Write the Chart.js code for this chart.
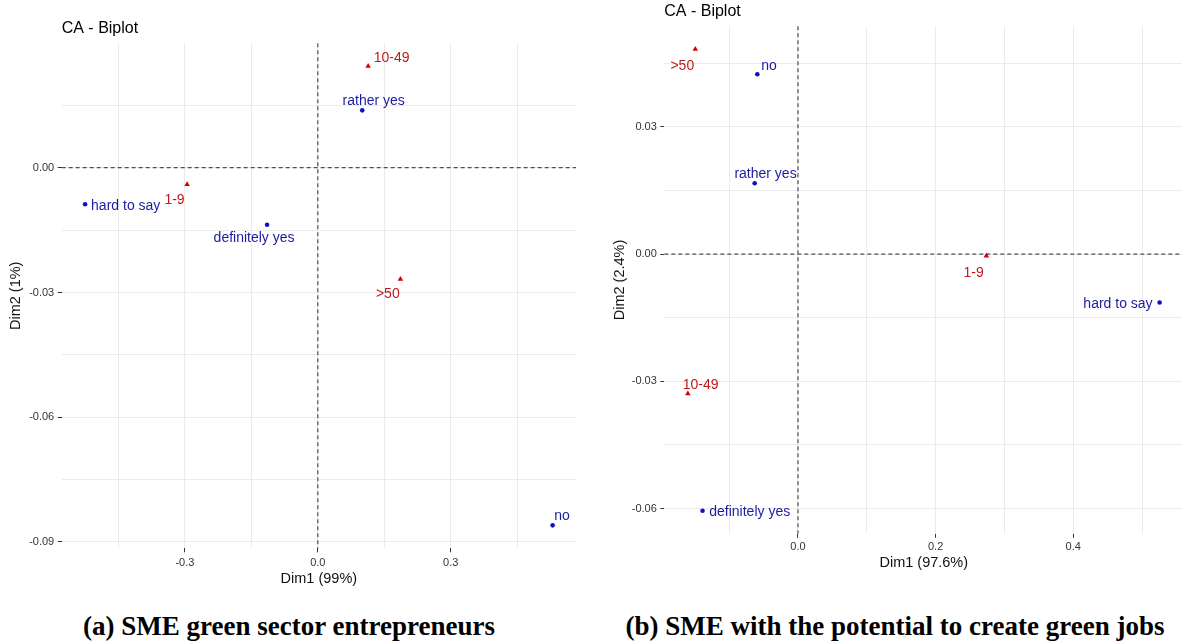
<!DOCTYPE html>
<html>
<head>
<meta charset="utf-8">
<script src="https://cdn.jsdelivr.net/npm/chart.js@4"></script>
<style>
  body { margin: 0; background: #fff; overflow: hidden; width: 1182px; height: 641px; position: relative; }
  .box { position: absolute; top: 0; width: 600px; height: 600px; }
  .caption {
    position: absolute; top: 610px; height: 32px; line-height: 32px;
    text-align: center; font-family: "Liberation Serif", "Times New Roman", serif;
    font-weight: bold; font-size: 27px; color: #000; white-space: nowrap;
  }
</style>
</head>
<body>
<div class="box" style="left:0"><canvas id="chartA"></canvas></div>
<div class="box" style="left:600px"><canvas id="chartB"></canvas></div>
<div class="caption" style="left:0; width:578px">(a) SME green sector entrepreneurs</div>
<div class="caption" style="left:600px; width:590px">(b) SME with the potential to create green jobs</div>
<script>
// row / column categories of the CA
const rowLabels = ["definitely yes", "rather yes", "hard to say", "no"];
const colLabels = ["1-9", "10-49", ">50"];

// (a) SME green sector entrepreneurs
const rowDim1A = [-0.1145, 0.1003, -0.5253, 0.530];
const rowDim2A = [-0.0137, 0.0138, -0.0088, -0.0860];
const colDim1A = [-0.295, 0.1136, 0.1864];
const colDim2A = [-0.0040, 0.0244, -0.0268];

// (b) SME with the potential to create green jobs
const rowDim1B = [-0.1387, -0.0629, 0.5255, -0.0591];
const rowDim2B = [-0.0605, 0.0167, -0.0114, 0.0424];
const colDim1B = [0.2738, -0.160, -0.1492];
const colDim2B = [-0.0004, -0.0329, 0.0483];

const axisTitlesA = ["Dim1 (99%)", "Dim2 (1%)"];
const axisTitlesB = ["Dim1 (97.6%)", "Dim2 (2.4%)"];

// label nudges (px from the point, baseline), like ggrepel put them
const rowNudgeA = [["center", -13, 17.6], ["center", 11.5, -5.5], ["left", 6, 5.5], ["center", 9.5, -5]];
const colNudgeA = [["center", -12.6, 19.5], ["left", 5.6, -4], ["center", -12.6, 19]];
const rowNudgeB = [["left", 6.7, 5.3], ["center", 10.8, -5], ["right", -7, 5.5], ["center", 11.7, -4.3]];
const colNudgeB = [["center", -12.8, 21], ["center", 12.7, -5], ["center", -13, 20.7]];

const FONT = "'Liberation Sans', Arial, sans-serif";
const ROW_COL = "#1010c8", ROW_TXT = "#1c1ca0";
const COL_COL = "#d40000", COL_TXT = "#c01a1a";

function expand(arrs) {
    const all = [].concat(...arrs);
    const lo = Math.min(...all), hi = Math.max(...all);
    const pad = (hi - lo) * 0.05;
    return [lo - pad, hi + pad];
}

function isMajor(v, step) {
    const r = v / step;
    return Math.abs(r - Math.round(r)) < 1e-6;
}

const biplotPlugin = {
    id: "biplot",
    beforeDatasetsDraw(chart) {
        const { ctx, chartArea: a, scales } = chart;
        const x0 = scales.x.getPixelForValue(0);
        const y0 = scales.y.getPixelForValue(0);
        ctx.save();
        ctx.strokeStyle = "#505050";
        ctx.lineWidth = 1.2;
        ctx.setLineDash([4, 3]);
        ctx.beginPath();
        ctx.moveTo(a.left, y0); ctx.lineTo(a.right, y0);
        ctx.moveTo(x0, a.top); ctx.lineTo(x0, a.bottom);
        ctx.stroke();
        ctx.restore();
    },
    afterDatasetsDraw(chart) {
        const { ctx, chartArea: a } = chart;
        const o = chart.options.plugins.biplot;
        ctx.save();
        ctx.font = "14px " + FONT;
        ctx.textBaseline = "alphabetic";
        [[o.rowNames, o.rowNudge, ROW_TXT], [o.colNames, o.colNudge, COL_TXT]].forEach(([names, nudge, color], d) => {
            const meta = chart.getDatasetMeta(d);
            ctx.fillStyle = color;
            meta.data.forEach((el, i) => {
                const [align, dx, dy] = nudge[i];
                ctx.textAlign = align;
                ctx.fillText(names[i], el.x + dx, el.y + dy);
            });
        });
        ctx.fillStyle = "#000";
        ctx.textAlign = "left";
        ctx.font = "16px " + FONT;
        ctx.fillText("CA - Biplot", a.left, a.top - 10);
        ctx.restore();
    }
};

function makeBiplot(id, rowX, rowY, colX, colY, titles, nudges, geo) {
    const xr = expand([rowX, colX]);
    const yr = expand([rowY, colY]);
    const ctx = document.getElementById(id).getContext("2d");
    return new Chart(ctx, {
        type: "scatter",
        data: {
            datasets: [
                {
                    label: "rows",
                    data: rowX.map((x, i) => ({ x: x, y: rowY[i] })),
                    pointStyle: "circle",
                    pointRadius: 2.3,
                    backgroundColor: ROW_COL,
                    borderColor: ROW_COL,
                    borderWidth: 0
                },
                {
                    label: "columns",
                    data: colX.map((x, i) => ({ x: x, y: colY[i] })),
                    pointStyle: "triangle",
                    pointRadius: 3.2,
                    backgroundColor: COL_COL,
                    borderColor: COL_COL,
                    borderWidth: 0
                }
            ]
        },
        options: {
            responsive: true,
            maintainAspectRatio: false,
            animation: false,
            events: [],
            layout: { padding: { top: geo.top, right: geo.right, left: 0, bottom: 0 } },
            plugins: {
                legend: { display: false },
                tooltip: { enabled: false },
                biplot: { rowNames: rowLabels, colNames: colLabels, rowNudge: nudges[0], colNudge: nudges[1] }
            },
            scales: {
                x: {
                    type: "linear",
                    min: xr[0],
                    max: xr[1],
                    afterFit: s => { s.height = geo.xHeight; },
                    border: { display: false },
                    grid: {
                        color: "#ebebeb",
                        lineWidth: 1,
                        drawTicks: true,
                        tickLength: 4,
                        tickColor: c => (c.tick && isMajor(c.tick.value, geo.xMajor)) ? "#333" : "rgba(0,0,0,0)"
                    },
                    ticks: {
                        stepSize: geo.xStep,
                        includeBounds: false,
                        autoSkip: false,
                        maxRotation: 0,
                        padding: geo.xPad,
                        color: "#333",
                        font: { family: FONT, size: 11 },
                        callback: v => isMajor(v, geo.xMajor) ? (Math.abs(v) < 1e-9 ? 0 : v).toFixed(1) : ""
                    },
                    title: {
                        display: true,
                        text: titles[0],
                        color: "#111",
                        font: { family: FONT, size: 14.5 },
                        padding: { top: 0, bottom: geo.xTitlePad }
                    }
                },
                y: {
                    type: "linear",
                    min: yr[0],
                    max: yr[1],
                    afterFit: s => { s.width = geo.yWidth; },
                    border: { display: false },
                    grid: {
                        color: "#ebebeb",
                        lineWidth: 1,
                        drawTicks: true,
                        tickLength: 4,
                        tickColor: c => (c.tick && isMajor(c.tick.value, 0.03)) ? "#333" : "rgba(0,0,0,0)"
                    },
                    ticks: {
                        stepSize: 0.015,
                        includeBounds: false,
                        autoSkip: false,
                        padding: 3.5,
                        color: "#333",
                        font: { family: FONT, size: 11 },
                        callback: v => isMajor(v, 0.03) ? (Math.abs(v) < 1e-9 ? 0 : v).toFixed(2) : ""
                    },
                    title: {
                        display: true,
                        text: titles[1],
                        color: "#111",
                        font: { family: FONT, size: 14.5 },
                        padding: { top: geo.yTitlePad, bottom: 0 }
                    }
                }
            }
        },
        plugins: [biplotPlugin]
    });
}

makeBiplot("chartA", rowDim1A, rowDim2A, colDim1A, colDim2A, axisTitlesA, [rowNudgeA, colNudgeA],
    { top: 43.3, right: 24, xHeight: 51.7, yWidth: 61.7, xStep: 0.15, xMajor: 0.3, xPad: 4, xTitlePad: 12, yTitlePad: 7.5 });
makeBiplot("chartB", rowDim1B, rowDim2B, colDim1B, colDim2B, axisTitlesB, [rowNudgeB, colNudgeB],
    { top: 26.2, right: 16.8, xHeight: 66.2, yWidth: 64.3, xStep: 0.1, xMajor: 0.2, xPad: 2.5, xTitlePad: 28.5, yTitlePad: 11.5 });
</script>
</body>
</html>
